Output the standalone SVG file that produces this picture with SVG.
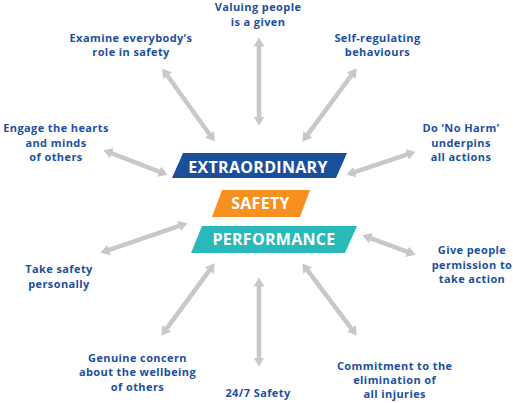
<svg xmlns="http://www.w3.org/2000/svg" width="513" height="403" viewBox="0 0 513 403">
<defs>
<marker id="ah" markerUnits="userSpaceOnUse" markerWidth="10" markerHeight="12" viewBox="0 -6 10 12" refX="0.5" refY="0" orient="auto-start-reverse">
<path d="M0,-5.5 L9,0 L0,5.5 Z" fill="#c8c8c8"/>
</marker>
<style>
.lbl{font-family:"Open Sans","Noto Sans",sans-serif;font-weight:700;font-size:11px;letter-spacing:0.4px;fill:#1d4f9f;text-anchor:middle}
.ban{font-family:"Open Sans","Noto Sans",sans-serif;font-weight:700;font-size:16px;letter-spacing:0.3px;fill:#ffffff;text-anchor:middle}
.arr{stroke:#c8c8c8;stroke-width:4.5;fill:none;marker-start:url(#ah);marker-end:url(#ah)}
</style>
</defs>
<rect width="513" height="403" fill="#ffffff"/>
<g id="connectors">
<line class="arr" x1="167.2" y1="75.3" x2="209.8" y2="134.7"/>
<line class="arr" x1="111.4" y1="153.2" x2="159.6" y2="171.8"/>
<line class="arr" x1="259" y1="46" x2="259" y2="117"/>
<line class="arr" x1="351.6" y1="75.2" x2="307.4" y2="134.8"/>
<line class="arr" x1="407.5" y1="154.4" x2="354.5" y2="172.1"/>
<line class="arr" x1="108.5" y1="250.1" x2="179.5" y2="225.9"/>
<line class="arr" x1="209.6" y1="270.2" x2="166.4" y2="328.8"/>
<line class="arr" x1="259" y1="286" x2="259" y2="358"/>
<line class="arr" x1="307.4" y1="270.2" x2="351.6" y2="328.8"/>
<line class="arr" x1="370.4" y1="238.1" x2="407.6" y2="251.9"/>
</g>
<g id="extraordinary">
<polygon points="183,153 347,153 336,178 172,178" fill="#1a4f9c"/>
<text class="ban" x="258" y="172.7">EXTRAORDINARY</text>
</g>
<g id="safety">
<polygon points="222,190 310,190 300,217 212,217" fill="#f7901e"/>
<text class="ban" x="260.5" y="208.5">SAFETY</text>
</g>
<g id="performance">
<polygon points="202,226 357,226 345,253 191,253" fill="#29b9b8"/>
<text class="ban" x="274" y="245">PERFORMANCE</text>
</g>
<g id="valuing">
<text class="lbl" x="258" y="11"><tspan x="258">Valuing people</tspan><tspan x="258" dy="14.5">is a given</tspan></text>
</g>
<g id="examine">
<text class="lbl" x="131" y="42"><tspan x="131">Examine everybody’s</tspan><tspan x="131" dy="14">role in safety</tspan></text>
</g>
<g id="selfreg">
<text class="lbl" x="377.5" y="42"><tspan x="377.5">Self-regulating</tspan><tspan x="377.5" dy="14">behaviours</tspan></text>
</g>
<g id="engage">
<text class="lbl" x="56" y="132.3"><tspan x="56">Engage the hearts</tspan><tspan x="56" dy="14.5">and minds</tspan><tspan x="56" dy="14.5">of others</tspan></text>
</g>
<g id="noharm">
<text class="lbl" x="461" y="132.3"><tspan x="461">Do ‘No Harm’</tspan><tspan x="461" dy="14.5">underpins</tspan><tspan x="461" dy="14.5">all actions</tspan></text>
</g>
<g id="give">
<text class="lbl" x="472" y="254.3"><tspan x="472">Give people</tspan><tspan x="472" dy="14.5">permission to</tspan><tspan x="472" dy="14.5">take action</tspan></text>
</g>
<g id="take">
<text class="lbl" x="59" y="273.3"><tspan x="59">Take safety</tspan><tspan x="59" dy="15">personally</tspan></text>
</g>
<g id="genuine">
<text class="lbl" x="137.5" y="361.7"><tspan x="137.5">Genuine concern</tspan><tspan x="137.5" dy="14.5">about the wellbeing</tspan><tspan x="137.5" dy="14.5">of others</tspan></text>
</g>
<g id="safety247">
<text class="lbl" x="258" y="397">24/7 Safety</text>
</g>
<g id="commitment">
<text class="lbl" x="394.7" y="370"><tspan x="394.7">Commitment to the</tspan><tspan x="394.7" dy="14.2">elimination of</tspan><tspan x="394.7" dy="14.2">all injuries</tspan></text>
</g>
</svg>
